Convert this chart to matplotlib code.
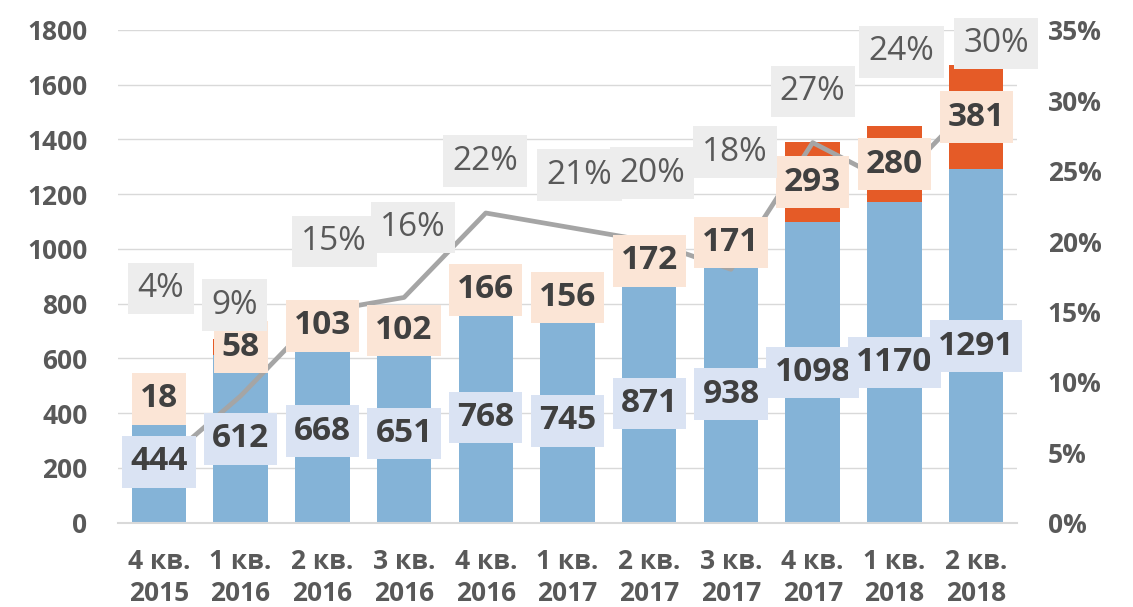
import matplotlib.pyplot as plt
import numpy as np
from matplotlib.path import Path

# data
quarters = ['4 кв.\n2015', '1 кв.\n2016', '2 кв.\n2016', '3 кв.\n2016', '4 кв.\n2016',
            '1 кв.\n2017', '2 кв.\n2017', '3 кв.\n2017', '4 кв.\n2017', '1 кв.\n2018',
            '2 кв.\n2018']
base_vals = [444, 612, 668, 651, 768, 745, 871, 938, 1098, 1170, 1291]
extra_vals = [18, 58, 103, 102, 166, 156, 172, 171, 293, 280, 381]
share_pct = [4, 9, 15, 16, 22, 21, 20, 18, 27, 24, 30]

# manual placement of the % labels (pixel offsets from the line point)
pct_dx = [2, -6, 12, 9, -1, 12, 3, 4, 0, 7, 20]
pct_dy = [178, 91, 70, 70, 52, 52, 68, 117, 51, 133, 57]

fonts = ['Open Sans', 'DejaVu Sans']
plt.rcParams['font.family'] = fonts

BLUE = '#84b3d7'
ORANGE = '#e55b27'
LINE = '#a5a5a5'
TXT = '#404040'
TICK = '#595959'


def label_box(padx, pady):
    # rectangle with separate horizontal / vertical padding (like Excel label boxes)
    def box(x0, y0, width, height, mutation_size):
        px, py = padx * mutation_size, pady * mutation_size
        x0, y0 = x0 - px, y0 - py
        x1, y1 = x0 + width + 2 * px, y0 + height + 2 * py
        return Path([(x0, y0), (x1, y0), (x1, y1), (x0, y1), (x0, y0)],
                    [Path.MOVETO, Path.LINETO, Path.LINETO, Path.LINETO, Path.CLOSEPOLY])
    return box


fig = plt.figure(figsize=(11.33, 6.07), dpi=100)
ax = fig.add_axes([118 / 1133, 1 - 522.7 / 607, (1017 - 118) / 1133, (522.7 - 30) / 607])
ax2 = ax.twinx()

x = np.arange(len(quarters))
base = np.array(base_vals)
extra = np.array(extra_vals)

ax.bar(x, base, 0.667, color=BLUE, zorder=2)
ax.bar(x, extra, 0.667, bottom=base, color=ORANGE, zorder=2)

ax.set_ylim(0, 1800)
yt = np.arange(0, 1801, 200)
ax.set_yticks(yt, [str(v) for v in yt], fontsize=19, fontweight='bold', color=TICK)
ax.set_xlim(-0.5, len(quarters) - 0.5)
ax.set_xticks(x, quarters, fontsize=19, fontweight='bold', color=TICK, linespacing=1.25)
ax.grid(axis='y', color='#d9d9d9', linewidth=1, zorder=0)
ax.set_axisbelow(True)
ax.tick_params(axis='y', length=0, pad=22)
ax.tick_params(axis='x', length=0, pad=18)
for s in ['top', 'right', 'left']:
    ax.spines[s].set_visible(False)
ax.spines['bottom'].set_color('#d9d9d9')
ax.spines['bottom'].set_linewidth(1.5)

# line on right axis
ax2.plot(x, share_pct, color=LINE, linewidth=3.4, zorder=3)
ax2.set_ylim(0, 35)
rt = np.arange(0, 36, 5)
ax2.set_yticks(rt, [f'{v}%' for v in rt], fontsize=19, fontweight='bold', color=TICK)
ax2.tick_params(axis='y', length=0, pad=22)
for s in ['top', 'right', 'left', 'bottom']:
    ax2.spines[s].set_visible(False)

# bar labels (on ax2 so they sit above the line)
for i in range(len(x)):
    ax2.annotate(str(base_vals[i]), xy=(x[i], base_vals[i] / 2), xycoords=ax.transData,
                 ha='center', va='center', fontsize=24, fontweight='bold', color=TXT,
                 bbox=dict(boxstyle=label_box(0.24, 0.28), fc='#dae3f3', ec='none'), zorder=5)
    ax2.annotate(str(extra_vals[i]), xy=(x[i], base_vals[i] + extra_vals[i] / 2),
                 xycoords=ax.transData,
                 ha='center', va='center', fontsize=24, fontweight='bold', color=TXT,
                 bbox=dict(boxstyle=label_box(0.24, 0.28), fc='#fbe5d6', ec='none'), zorder=5)

for i in range(len(x)):
    ax2.annotate(f'{share_pct[i]}%', xy=(x[i], share_pct[i]), xytext=(pct_dx[i], pct_dy[i]),
                 textcoords='offset pixels', ha='center', va='center', fontsize=24,
                 color=TICK, bbox=dict(boxstyle=label_box(0.28, 0.28), fc='#ededed', ec='none'),
                 zorder=6, annotation_clip=False)

fig.savefig('out.png', dpi=100)
